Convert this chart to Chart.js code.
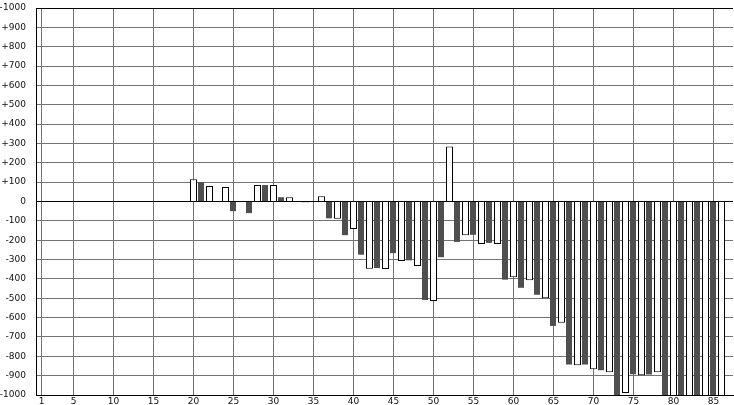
<!DOCTYPE html>
<html>
<head>
<meta charset="utf-8">
<script src="https://cdn.jsdelivr.net/npm/chart.js@4/dist/chart.umd.min.js"></script>
<style>
  html, body { margin: 0; padding: 0; background: #fff; }
  #wrap { width: 734px; height: 405px; }
</style>
</head>
<body>
<div id="wrap"><canvas id="chart"></canvas></div>
<script>
// white bars sit on even positions, grey bars on odd ones
const whiteX = [20,22,24,26,28,30,32,34,36,38,40,42,44,46,48,50,52,54,56,58,60,62,64,66,68,70,72,74,76,78,80,82,84,86];
const whiteVals = [115,80,75,null,85,85,22,-5,27,-89,-142,-347,-349,-307,-333,-514,284,-175,-219,-219,-391,-407,-500,-627,-846,-867,-882,-990,-898,-882,-1100,-1100,-1100,-1100];
const greyX = [21,23,25,27,29,31,33,35,37,39,41,43,45,47,49,51,53,55,57,59,61,63,65,67,69,71,73,75,77,79,81,83,85];
const greyVals = [100,null,-50,-60,85,22,null,null,-87,-174,-275,-344,-267,-304,-509,-288,-209,-172,-214,-404,-446,-482,-643,-842,-842,-872,-1100,-893,-894,-1100,-1100,-1100,-1100];
const xTicks = [1,5,10,15,20,25,30,35,40,45,50,55,60,65,70,75,80,85];

const toPoints = (xs, ys) => xs.map((x, i) => ({x: x, y: ys[i]}));
const font = {family: 'DejaVu Sans', size: 9};
const gridGrey = '#737373';

new Chart(document.getElementById('chart'), {
  type: 'bar',
  data: {
    datasets: [
      { label: 'white', data: toPoints(whiteX, whiteVals), backgroundColor: '#fff',
        borderColor: '#000', borderWidth: 1, barThickness: 7, inflateAmount: 0, xAxisID: 'x' },
      // grey bars use a twin axis shifted half a pixel so their edges stay crisp
      { label: 'grey', data: toPoints(greyX, greyVals), backgroundColor: '#4f4f4f',
        borderWidth: 0, barThickness: 6, inflateAmount: 0, xAxisID: 'x2' }
    ]
  },
  options: {
    responsive: true,
    maintainAspectRatio: false,
    animation: false,
    layout: { padding: { top: 8, right: 1, left: 0, bottom: 0 } },
    datasets: { bar: { grouped: false } },
    plugins: { legend: { display: false }, tooltip: { enabled: false } },
    scales: {
      x: {
        type: 'linear',
        offset: false,
        min: 0.3125,
        max: 87.4375,
        afterBuildTicks: s => { s.ticks = xTicks.map(v => ({value: v})); },
        afterFit: s => { s.height = 10; s.paddingLeft = 0; s.paddingRight = 0; },
        grid: { color: gridGrey, drawTicks: false, offset: false },
        border: { display: true, color: '#000' },
        ticks: { autoSkip: false, maxRotation: 0, padding: 1, color: '#111', font: font }
      },
      x2: {
        type: 'linear',
        display: false,
        offset: false,
        min: 0.375,
        max: 87.5
      },
      y: {
        min: -1000,
        max: 1000,
        afterFit: s => { s.width = 36; s.paddingTop = 0; s.paddingBottom = 0; },
        grid: {
          drawTicks: false,
          color: ctx => [0, 1000, -1000].includes(ctx.tick.value) ? '#000' : gridGrey
        },
        border: { display: true, color: '#000' },
        ticks: {
          stepSize: 100,
          padding: 10,
          color: '#111',
          font: font,
          callback: v => v > 0 ? '+' + v : String(v)
        }
      }
    }
  }
});
</script>
</body>
</html>
